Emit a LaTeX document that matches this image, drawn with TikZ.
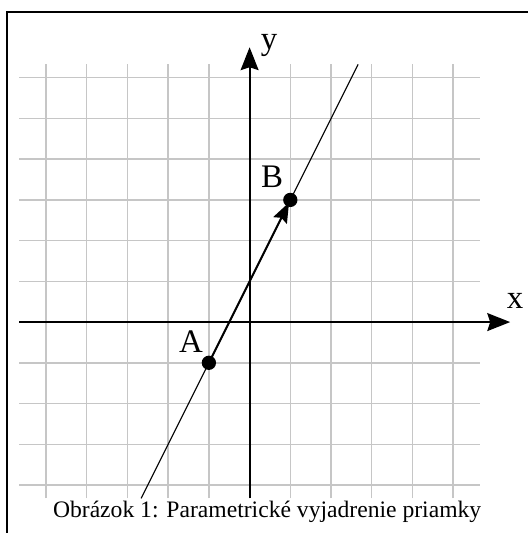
\documentclass[tikz,border=0pt]{standalone}
\usepackage{fontspec}
\setmainfont{Liberation Serif}
\usetikzlibrary{arrows.meta}
\tikzset{
  gridline/.style={gray!45, line width=1pt},
  axis/.style={line width=1.4pt, -{Stealth[length=16pt,width=12.5pt,inset=2pt]}},
  dotnode/.style={circle, fill=black, inner sep=0pt, minimum size=10pt},
  vect/.style={line width=1.4pt, -{Stealth[length=14pt,width=10.5pt,inset=2pt]}, shorten >=2pt},
  lbl/.style={font=\fontsize{23}{25}\selectfont, inner sep=0pt},
}
\begin{document}
\begin{tikzpicture}
\useasboundingbox (-6.13,-5.18) rectangle (6.82,7.91);
% frame
\draw[line width=1pt] (-5.96,-6) -- (-5.96,7.62) -- (7,7.62);
% grid
\foreach \x in {-5,...,5} \draw[gridline] (\x,-4.33) -- (\x,6.34);
\foreach \y in {-4,...,6} \draw[gridline] (-5.66,\y) -- (5.66,\y);
% axes
\coordinate (xs) at (-5.66,0);
\coordinate (xe) at (6.4,0);
\coordinate (ys) at (0,-4.33);
\coordinate (ye) at (0,6.75);
\draw[axis] (xs) -- (xe);
\draw[axis] (ys) -- (ye);
\node[lbl] (xl) at (6.52,0.52) {x};
\node[lbl] (yl) at (0.48,6.8) {y};
% line
\coordinate (L1) at (-2.665,-4.33);
\coordinate (L2) at (2.665,6.33);
\draw[line width=0.8pt] (L1) -- (L2);
% points
\node[dotnode] (A) at (-1,-1) {};
\node[dotnode] (B) at (1,3) {};
\draw[vect] (A.center) -- (B.center);
\node[lbl] (Al) at (-1.44,-0.47) {A};
\node[lbl] (Bl) at (0.55,3.56) {B};
% caption
\node[font=\fontsize{16.5}{19}\selectfont, inner sep=0pt] (cap) at (0.43,-4.67) {Obrázok 1: Parametrické vyjadrenie priamky};
\end{tikzpicture}
\end{document}
